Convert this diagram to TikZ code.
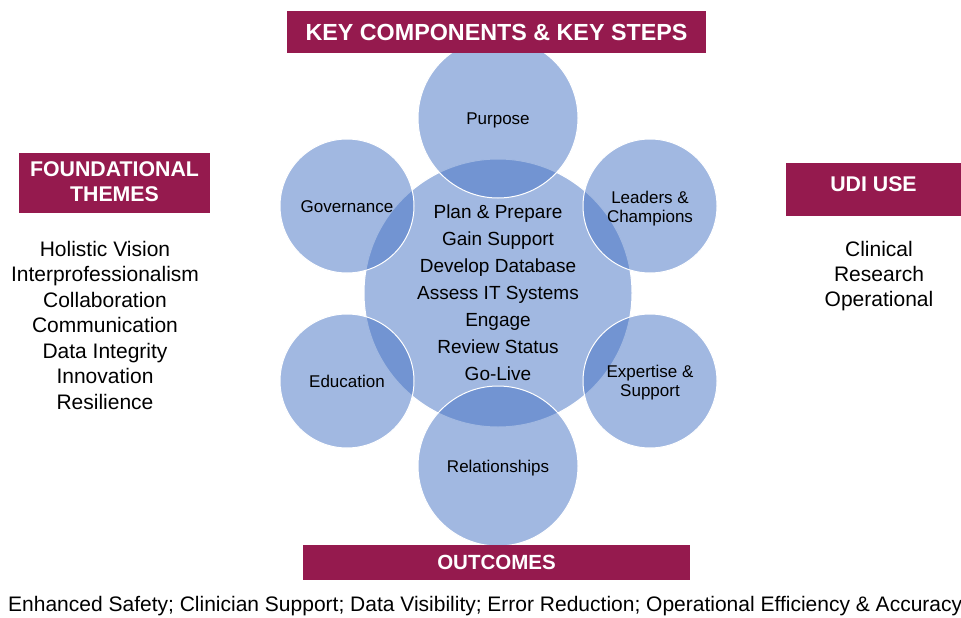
\documentclass[tikz,border=0pt]{standalone}
\usepackage{fontspec}
\setmainfont{Liberation Sans}
\definecolor{hdrred}{HTML}{951A4E}
\definecolor{cblue}{HTML}{4472C4}
\begin{document}
\begin{tikzpicture}[x=1pt,y=-1pt,
  bubble/.style={circle, fill=cblue, fill opacity=0.5, draw=white, line width=1pt, inner sep=0pt},
  blabel/.style={align=center, inner sep=0pt, font=\fontsize{17}{19}\selectfont},
  hdr/.style={rectangle, fill=hdrred, text=white, inner sep=0pt, align=center, font=\bfseries\fontsize{21.3}{25}\selectfont},
  txtlist/.style={align=center, inner sep=0pt, font=\fontsize{21}{25.5}\selectfont}]
\useasboundingbox[fill=white] (0,0) rectangle (961,618);
% central circle and components
\node[bubble, minimum size=268pt] (core) at (498,293) {};
\node[bubble, minimum size=160pt] (purpose) at (498,118) {};
\node[bubble, minimum size=134pt] (gov) at (347,206) {};
\node[bubble, minimum size=134pt] (lead) at (650,206) {};
\node[bubble, minimum size=134pt] (edu) at (347,381) {};
\node[bubble, minimum size=134pt] (exp) at (650,381) {};
\node[bubble, minimum size=160pt] (rel) at (498,466) {};
\node[blabel] (purposet) at ([yshift=-2.5pt]purpose.center) {Purpose};
\node[blabel] (govt) at ([yshift=-1pt]gov.center) {Governance};
\node[blabel] (leadt) at ([yshift=-2.5pt]lead.center) {Leaders \&\\Champions};
\node[blabel] (edut) at ([yshift=0pt]edu.center) {Education};
\node[blabel] (expt) at ([yshift=-1.5pt]exp.center) {Expertise \&\\Support};
\node[blabel] (relt) at ([yshift=-2.5pt]rel.center) {Relationships};
\node[align=center, inner sep=0pt, font=\fontsize{19}{27}\selectfont] (steps) at (core.center)
  {Plan \& Prepare\\Gain Support\\Develop Database\\Assess IT Systems\\Engage\\Review Status\\Go-Live};
% headers
\node[hdr, minimum width=419pt, minimum height=42pt, font=\bfseries\fontsize{23.3}{26}\selectfont] (kc) at (496.5,32) {KEY COMPONENTS \& KEY STEPS};
\node[hdr, minimum width=191pt, minimum height=60pt] (ft) at (114.5,183) {\raisebox{2pt}{FOUNDATIONAL}\\\raisebox{2pt}{THEMES}};
\node[hdr, minimum width=175pt, minimum height=53pt] (udi) at (873.5,189.5) {\raisebox{10pt}{UDI USE}};
\node[hdr, minimum width=387pt, minimum height=35pt, font=\bfseries\fontsize{20.5}{22}\selectfont] (out) at (496.5,562.5) {OUTCOMES};
% lists
\node[txtlist] (themes) at (105,325) {Holistic Vision\\Interprofessionalism\\Collaboration\\Communication\\Data Integrity\\Innovation\\Resilience};
\node[txtlist, font=\fontsize{21}{25}\selectfont] (uses) at (879,276) {Clinical\\Research\\Operational};
\node[anchor=west, inner sep=0pt, font=\fontsize{21}{24}\selectfont] (outs) at (8,606) {Enhanced Safety; Clinician Support; Data Visibility; Error Reduction; Operational Efficiency \& Accuracy};
\end{tikzpicture}
\end{document}
